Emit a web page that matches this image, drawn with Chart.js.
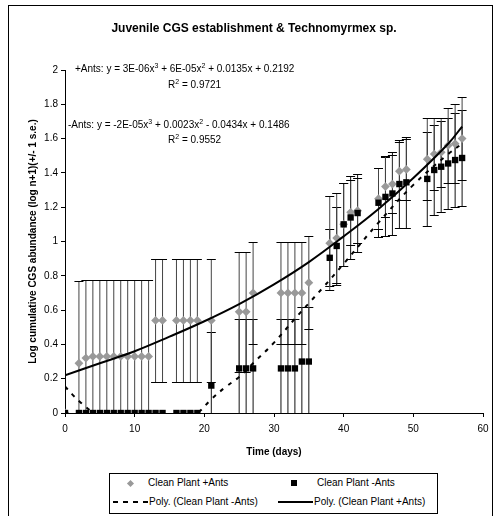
<!DOCTYPE html>
<html>
<head>
<meta charset="utf-8">
<script src="https://cdn.jsdelivr.net/npm/chart.js@4.4.1/dist/chart.umd.min.js"></script>
<style>
  html, body { margin: 0; padding: 0; background: #fff; }
  body { width: 496px; height: 516px; position: relative; overflow: hidden;
         font-family: 'Liberation Sans', Arial, sans-serif; color: #000; }
  #frame { position: absolute; left: 8px; top: 5px; width: 483px; height: 600px;
           border: 1px solid #000; box-sizing: content-box; }
  #wrap { position: absolute; left: 0; top: 0; width: 496px; height: 516px; }
  .txt { position: absolute; font-size: 10px; line-height: 12px; white-space: nowrap; }
  .txt sup { font-size: 7px; line-height: 0; vertical-align: 4px; }
  #title { position: absolute; left: 54px; width: 400px; top: 21px; text-align: center;
           font-size: 12px; line-height: 14px; font-weight: bold; white-space: nowrap; }
  #legend { position: absolute; left: 109px; top: 473px; width: 329px; height: 41px;
            border: 1px solid #000; box-sizing: border-box; background: #fff; }
  .sw { position: absolute; }
</style>
</head>
<body>
<div id="frame"></div>
<div id="wrap"><canvas id="chart"></canvas></div>

<div id="title">Juvenile CGS establishment &amp; Technomyrmex sp.</div>
<div class="txt" style="left:75px; top:63px">+Ants: y = 3E-06x<sup>3</sup> + 6E-05x<sup>2</sup> + 0.0135x + 0.2192</div>
<div class="txt" style="left:168px; top:79px">R<sup>2</sup> = 0.9721</div>
<div class="txt" style="left:68px; top:119px">-Ants: y = -2E-05x<sup>3</sup> + 0.0023x<sup>2</sup> - 0.0434x + 0.1486</div>
<div class="txt" style="left:168px; top:134px">R<sup>2</sup> = 0.9552</div>

<div id="legend"></div>
<!-- legend contents (page coordinates) -->
<span class="sw" style="left:128px; top:481px; width:5px; height:5px; background:#999; transform:rotate(45deg)"></span>
<div class="txt" style="left:148px; top:477px">Clean Plant +Ants</div>
<span class="sw" style="left:291px; top:480px; width:6px; height:6px; background:#000"></span>
<div class="txt" style="left:317px; top:477px">Clean Plant -Ants</div>
<span class="sw" style="left:113px; top:501px; width:35px; height:2px; background:repeating-linear-gradient(to right, #000 0 5px, transparent 5px 10px)"></span>
<div class="txt" style="left:149px; top:496px">Poly. (Clean Plant -Ants)</div>
<span class="sw" style="left:278px; top:501px; width:35px; height:2px; background:#000"></span>
<div class="txt" style="left:314px; top:496px">Poly. (Clean Plant +Ants)</div>

<script>
/* ============================================================
 data
============================================================ */
const days = [0, 2, 3, 4, 5, 6, 7, 8, 9, 10, 11, 12, 13, 14, 16, 17, 18, 19, 21,
              25, 26, 27, 31, 32, 33, 34, 35, 38, 39, 40, 41, 42, 45, 46, 47, 48, 49,
              52, 53, 54, 55, 56, 57];

// Clean Plant +Ants (grey diamonds)
const plusAnts = [0, 0.29, 0.32, 0.33, 0.33, 0.33, 0.33, 0.33, 0.33, 0.33, 0.33, 0.33, 0.54, 0.54,
                  0.54, 0.54, 0.54, 0.54, 0.54,
                  0.59, 0.59, 0.70, 0.70, 0.70, 0.70, 0.70, 0.76,
                  0.99, 1.02, 1.10, 1.17, 1.18, 1.25, 1.32, 1.335, 1.41, 1.42,
                  1.48, 1.51, 1.52, 1.56, 1.57, 1.60];
const plusSE = [0, 0.48, 0.455, 0.445, 0.445, 0.445, 0.445, 0.445, 0.445, 0.445, 0.445, 0.445, 0.36, 0.36,
                0.36, 0.36, 0.36, 0.36, 0.36,
                0.35, 0.35, 0.30, 0.30, 0.30, 0.30, 0.30, 0.27,
                0.275, 0.26, 0.24, 0.19, 0.19, 0.18, 0.18, 0.17, 0.17, 0.18,
                0.24, 0.21, 0.20, 0.22, 0.23, 0.24];

// Clean Plant -Ants (black squares)
const minusAnts = [0, 0, 0, 0, 0, 0, 0, 0, 0, 0, 0, 0, 0, 0,
                   0, 0, 0, 0, 0.16,
                   0.26, 0.26, 0.26, 0.26, 0.26, 0.26, 0.30, 0.30,
                   0.905, 0.974, 1.10, 1.14, 1.166, 1.226, 1.26, 1.28, 1.335, 1.345,
                   1.365, 1.417, 1.436, 1.455, 1.475, 1.487];
const minusSE = [0, 0, 0, 0, 0, 0, 0, 0, 0, 0, 0, 0, 0, 0,
                 0, 0, 0, 0, 0.31,
                 0.29, 0.29, 0.29, 0.29, 0.29, 0.29, 0.32, 0.32,
                 0.165, 0.23, 0.24, 0.24, 0.23, 0.20, 0.23, 0.24, 0.255, 0.265,
                 0.275, 0.26, 0.265, 0.265, 0.275, 0.28];

// Poly. trendlines
const plusTrendX = [0, 5, 10, 15, 20, 25, 30, 35, 40, 45, 50, 55, 57];
const plusTrendY = [0.22, 0.29, 0.36, 0.445, 0.535, 0.635, 0.75, 0.88, 1.03, 1.19, 1.37, 1.57, 1.67];
const minusTrendX = [0, 1, 2, 3, 4, 6, 9, 12, 15, 17, 19, 21, 23, 25, 27, 30, 33, 35, 37, 40, 45, 50, 55, 57];
const minusTrendY = [0.155, 0.11, 0.07, 0.035, 0.005, -0.04, -0.08, -0.09, -0.06, -0.035, 0.0, 0.08, 0.15,
                     0.21, 0.29, 0.41, 0.55, 0.64, 0.73, 0.87, 1.11, 1.33, 1.51, 1.57];

// axes
const xTicks = [0, 10, 20, 30, 40, 50, 60];
const yTicks = [0, 0.2, 0.4, 0.6, 0.8, 1, 1.2, 1.4, 1.6, 1.8, 2];
const xTitle = "Time (days)";
const yTitle = "Log cumulative CGS abundance (log n+1)(+/- 1 s.e.)";

const pts = (xs, ys) => xs.map((x, i) => ({ x: x, y: ys[i] }));

/* ============================================================
 error bars (+/- 1 s.e.), drawn through the chart scales
============================================================ */
const errorBars = {
  id: "errorBars",
  beforeDatasetsDraw(chart) {
    const { ctx, chartArea, scales } = chart;
    ctx.save();
    ctx.beginPath();
    ctx.rect(chartArea.left, chartArea.top - 2, chartArea.width + 2, chartArea.height + 2);
    ctx.clip();
    ctx.lineWidth = 1;
    chart.data.datasets.forEach((ds) => {
      if (!ds.errors) return;
      ds.data.forEach((p, i) => {
        const e = ds.errors[i];
        if (!e) return;
        const px = scales.x.getPixelForValue(p.x);
        const yTop = Math.round(scales.y.getPixelForValue(p.y + e)) + 0.5;
        const yBot = Math.round(scales.y.getPixelForValue(p.y - e)) + 0.5;
        // stem (not snapped, so it blurs grey like the original)
        ctx.strokeStyle = ds.errorColor;
        ctx.beginPath();
        ctx.moveTo(px, yTop); ctx.lineTo(px, yBot);
        ctx.stroke();
        // caps
        ctx.strokeStyle = "#000";
        ctx.beginPath();
        ctx.moveTo(px - 4.5, yTop); ctx.lineTo(px + 4.5, yTop);
        ctx.moveTo(px - 4.5, yBot); ctx.lineTo(px + 4.5, yBot);
        ctx.stroke();
      });
    });
    ctx.restore();
  }
};

Chart.defaults.font.family = "'Liberation Sans', Arial, sans-serif";
Chart.defaults.color = "#000";

const fmt = (v) => String(+Number(v).toFixed(1));

new Chart(document.getElementById("chart"), {
  type: "scatter",
  data: {
    datasets: [
      { label: "Poly. (Clean Plant +Ants)", data: pts(plusTrendX, plusTrendY), showLine: true,
        borderColor: "#000", borderWidth: 2, pointRadius: 0, tension: 0.4, clip: 0 },
      { label: "Poly. (Clean Plant -Ants)", data: pts(minusTrendX, minusTrendY), showLine: true,
        borderColor: "#000", borderWidth: 2, borderDash: [4, 6], pointRadius: 0, tension: 0.4, clip: 0 },
      { label: "Clean Plant -Ants", data: pts(days, minusAnts), errors: minusSE, errorColor: "#111",
        pointStyle: "rect", pointRadius: 4.5, backgroundColor: "#000", borderColor: "#000", borderWidth: 0 },
      { label: "Clean Plant +Ants", data: pts(days, plusAnts), errors: plusSE, errorColor: "#444",
        pointStyle: "rectRot", pointRadius: 4.4, backgroundColor: "#999", borderColor: "#999", borderWidth: 0 },
    ],
  },
  options: {
    animation: false, responsive: true, maintainAspectRatio: false,
    layout: { padding: { top: 70, left: 0, right: 13, bottom: 0 } },
    plugins: { legend: { display: false }, tooltip: { enabled: false } },
    scales: {
      x: {
        type: "linear", min: 0, max: 60,
        afterBuildTicks: (s) => { s.ticks = xTicks.map((v) => ({ value: v })); },
        afterFit: (s) => { s.height = 103; },
        border: { display: true, color: "#000", width: 1 },
        grid: { drawOnChartArea: false, drawTicks: true, tickLength: 4, color: "#000" },
        ticks: { font: { size: 10 }, padding: 6, maxRotation: 0, callback: fmt },
        title: { display: true, text: xTitle, font: { size: 10, weight: "bold" }, padding: { top: 0, bottom: 58 } },
      },
      y: {
        type: "linear", min: 0, max: 2,
        afterBuildTicks: (s) => { s.ticks = yTicks.map((v) => ({ value: v })); },
        afterFit: (s) => { s.width = 65; },
        border: { display: true, color: "#000", width: 1 },
        grid: { drawOnChartArea: false, drawTicks: true, tickLength: 4, color: "#000" },
        ticks: { font: { size: 10 }, padding: 3, callback: fmt },
        title: { display: true, text: yTitle, font: { size: 10, weight: "bold" }, padding: { top: 27, bottom: 0 } },
      },
    },
  },
  plugins: [errorBars],
});
</script>
</body>
</html>
